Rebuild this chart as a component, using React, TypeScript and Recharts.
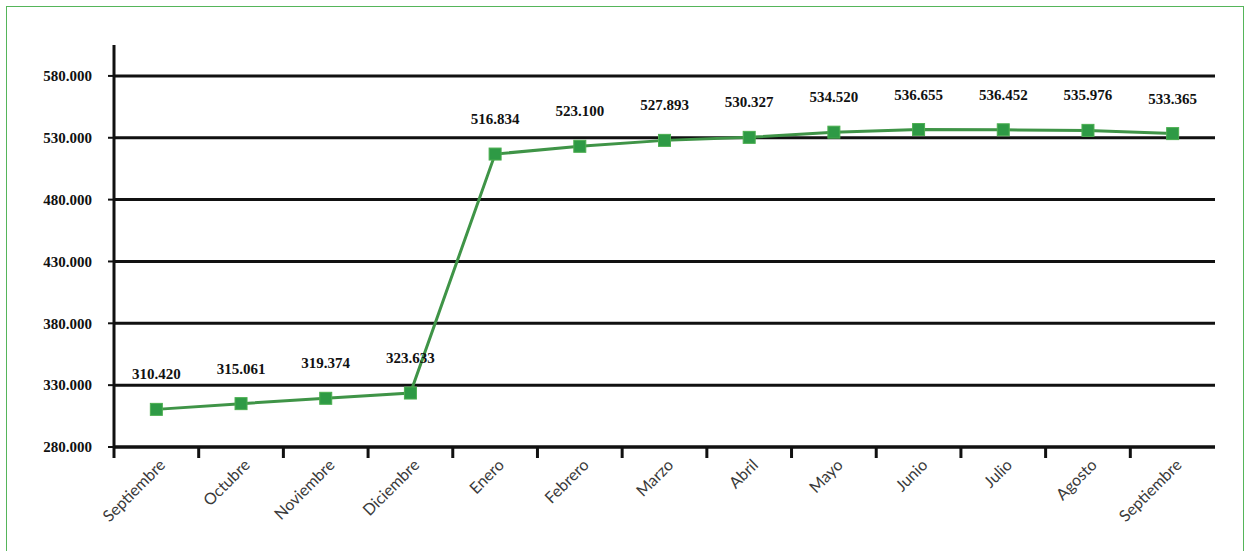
import { LabelList, Line, LineChart, ReferenceLine, XAxis, YAxis } from "recharts";

const months = [
  "Septiembre",
  "Octubre",
  "Noviembre",
  "Diciembre",
  "Enero",
  "Febrero",
  "Marzo",
  "Abril",
  "Mayo",
  "Junio",
  "Julio",
  "Agosto",
  "Septiembre",
];

const totals = [
  310420, 315061, 319374, 323633, 516834, 523100, 527893, 530327, 534520,
  536655, 536452, 535976, 533365,
];

const yTicks = [280000, 330000, 380000, 430000, 480000, 530000, 580000];

const W = 1236;
const H = 544;
const YW = 107;
const RIGHT = 28;
const HALF_BAND = (W - YW - RIGHT) / months.length / 2;

const data = months.map((m, i) => ({ key: `${m}-${i}`, month: m, total: totals[i] }));

const fmt = (v: number) => v.toLocaleString("de-DE");

function MonthTick({ x, y, payload }: any) {
  return (
    <g>
      <line x1={x - HALF_BAND} y1={y - 8} x2={x - HALF_BAND} y2={y + 3} stroke="#111" strokeWidth={3} />
      <text
        x={x + 10}
        y={y + 11}
        textAnchor="end"
        transform={`rotate(-45 ${x + 10} ${y + 11})`}
        fontFamily="Lato, 'Open Sans', sans-serif"
        fontSize={16}
        fill="#3a3a3a"
      >
        {months[payload.index] ?? payload.value}
      </text>
    </g>
  );
}

function ValueLabel({ x, y, value }: any) {
  return (
    <text
      x={x}
      y={y - 30}
      textAnchor="middle"
      fontFamily="'Liberation Serif', 'DejaVu Serif', serif"
      fontWeight="bold"
      fontSize={15}
      fill="#111"
    >
      {fmt(value)}
    </text>
  );
}

export default function App() {
  return (
    <div
      style={{
        position: "absolute",
        left: 6,
        top: 6,
        width: W,
        height: H + 10,
        border: "1px solid #55b55a",
        boxSizing: "content-box",
        background: "#fff",
      }}
    >
      <LineChart width={W} height={H} data={data} margin={{ top: 38, right: RIGHT, left: 0, bottom: 4 }}>
        {yTicks.map((t) => (
          <ReferenceLine key={t} y={t} stroke="#111" strokeWidth={3} />
        ))}
        <XAxis
          dataKey="key"
          interval={0}
          height={100}
          padding={{ left: HALF_BAND, right: HALF_BAND }}
          axisLine={{ stroke: "#111", strokeWidth: 3 }}
          tickLine={false}
          tick={<MonthTick />}
        />
        <YAxis
          width={YW}
          domain={[280000, 605000]}
          ticks={yTicks}
          allowDataOverflow
          tickFormatter={fmt}
          axisLine={{ stroke: "#111", strokeWidth: 3 }}
          tickLine={{ stroke: "#111", strokeWidth: 2 }}
          tickSize={6}
          tickMargin={16}
          tick={{
            fill: "#111",
            fontFamily: "'Liberation Serif', 'DejaVu Serif', serif",
            fontWeight: "bold",
            fontSize: 15,
          }}
        />
        <Line
          type="linear"
          dataKey="total"
          stroke="#3f9447"
          strokeWidth={3}
          isAnimationActive={false}
          dot={(p: any) => (
            <rect key={p.index} x={p.cx - 6} y={p.cy - 6} width={12} height={12} fill="#2e9a45" stroke="#4caf50" strokeWidth={1} />
          )}
        >
          <LabelList dataKey="total" content={<ValueLabel />} />
        </Line>
      </LineChart>
    </div>
  );
}
